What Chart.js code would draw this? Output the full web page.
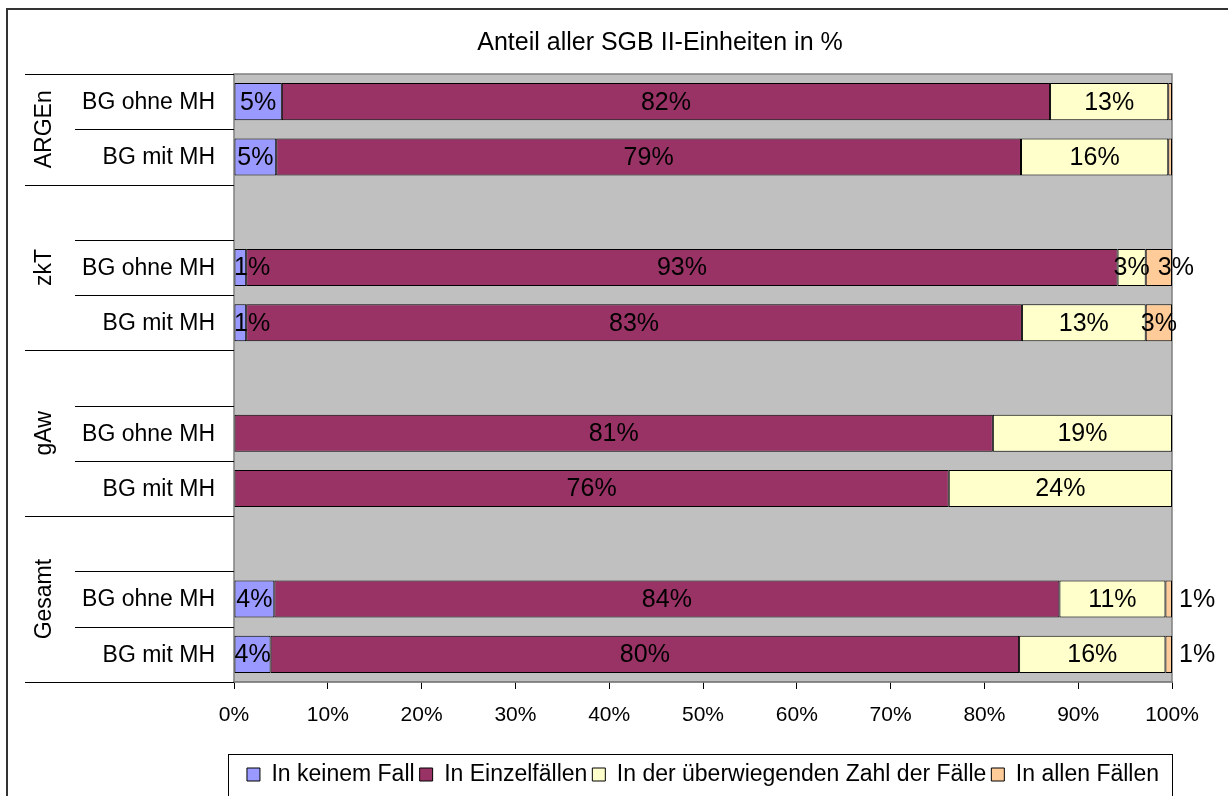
<!DOCTYPE html>
<html lang="de">
<head>
<meta charset="utf-8">
<title>Anteil aller SGB II-Einheiten in %</title>
<script src="https://cdn.jsdelivr.net/npm/chart.js@4.4.0/dist/chart.umd.min.js"></script>
<style>
  html, body { margin: 0; padding: 0; background: #fff; overflow: hidden; }
  #myChartSgb { display: block; }
</style>
</head>
<body>
<canvas id="myChartSgb" width="1228" height="796"></canvas>
<script>
//? Données du graphique.

const titre = "Anteil aller SGB II-Einheiten in %";

const groupes = ["ARGEn", "zkT", "gAw", "Gesamt"];
const tailleGroupes = [2, 3, 3, 3];

const categories = [
  "BG ohne MH", "BG mit MH", "",
  "BG ohne MH", "BG mit MH", "",
  "BG ohne MH", "BG mit MH", "",
  "BG ohne MH", "BG mit MH",
];

const seriesNoms = [
  "In keinem Fall",
  "In Einzelfällen",
  "In der überwiegenden Zahl der Fälle",
  "In allen Fällen",
];

const inKeinemFall = [5.1, 4.5, null, 1.3, 1.3, null, 0, 0, null, 4.3, 3.9];
const inEinzelfaellen = [81.9, 79.4, null, 92.9, 82.7, null, 80.9, 76.2, null, 83.7, 79.8];
const inDerUeberwiegendenZahl = [12.6, 15.7, null, 3.0, 13.2, null, 19.1, 23.8, null, 11.3, 15.6];
const inAllenFaellen = [0.4, 0.4, null, 2.8, 2.8, null, 0, 0, null, 0.7, 0.7];

const xTickLabels = ["0%", "10%", "20%", "30%", "40%", "50%", "60%", "70%", "80%", "90%", "100%"];

const couleurs = ["#9999FF", "#993366", "#FFFFCC", "#FFCC99"];

//? -------------------------------------------------

const police = "'Liberation Sans', Arial, sans-serif";
Chart.defaults.font.family = police;
Chart.defaults.color = "#000";

//? Fond gris de la zone de tracé.

const pluginFond = {
  id: "fondGris",
  beforeDraw(chart) {
    const { ctx, chartArea: a } = chart;
    ctx.save();
    ctx.fillStyle = "#C0C0C0";
    ctx.fillRect(a.left, a.top, a.right - a.left, a.bottom - a.top);
    ctx.strokeStyle = "#808080";
    ctx.lineWidth = 1.5;
    ctx.strokeRect(a.left, a.top, a.right - a.left, a.bottom - a.top);
    ctx.restore();
  },
};

//? Étiquettes des barres (valeurs arrondies).

const pluginEtiquettes = {
  id: "etiquettesBarres",
  afterDatasetsDraw(chart) {
    const { ctx, chartArea } = chart;
    ctx.save();
    ctx.font = "25px " + police;
    ctx.fillStyle = "#000";
    ctx.textAlign = "center";
    ctx.textBaseline = "middle";
    const finPrecedente = [];
    chart.data.datasets.forEach((ds, di) => {
      const meta = chart.getDatasetMeta(di);
      meta.data.forEach((bar, i) => {
        const v = ds.data[i];
        if (v === null || Math.round(v) === 0) return;
        const texte = Math.round(v) + "%";
        const w = ctx.measureText(texte).width;
        const x0 = Math.min(bar.base, bar.x);
        const x1 = Math.max(bar.base, bar.x);
        let cx = (x0 + x1) / 2;
        if (x1 - x0 < 10) cx = x1 + 7 + w / 2;
        if (cx - w / 2 < chartArea.left) cx = chartArea.left + w / 2;
        if (finPrecedente[i] !== undefined && cx - w / 2 < finPrecedente[i]) {
          cx = finPrecedente[i] + 8 + w / 2;
        }
        finPrecedente[i] = cx + w / 2;
        ctx.fillText(texte, cx, bar.y + 1);
      });
    });
    ctx.restore();
  },
};

//? Axe à deux niveaux, cadres.

const pluginCadres = {
  id: "cadres",
  afterDraw(chart) {
    const { ctx, chartArea: a } = chart;
    const yScale = chart.scales.y;
    const pas = yScale.getPixelForValue(1) - yScale.getPixelForValue(0);
    const ligne = (x0, x1, y) => {
      const yy = Math.round(y) + 0.5;
      ctx.beginPath();
      ctx.moveTo(x0, yy);
      ctx.lineTo(x1, yy);
      ctx.stroke();
    };

    ctx.save();
    ctx.strokeStyle = "#000";
    ctx.lineWidth = 1;
    ctx.fillStyle = "#000";
    ctx.font = "23px " + police;
    ctx.textBaseline = "middle";

    // libellés des catégories
    ctx.textAlign = "right";
    categories.forEach((lib, i) => {
      if (lib) ctx.fillText(lib, a.left - 19, yScale.getPixelForValue(i) + 1);
    });

    // groupes
    ctx.textAlign = "center";
    let debut = 0;
    groupes.forEach((nom, g) => {
      const fin = debut + tailleGroupes[g];
      const yHaut = yScale.getPixelForValue(debut) - pas / 2;
      const yBas = yScale.getPixelForValue(fin - 1) + pas / 2;
      ligne(25, a.left, yHaut);
      if (g === groupes.length - 1) ligne(25, a.left, yBas);
      for (let k = debut + 1; k < fin; k++) {
        ligne(75, a.left, yScale.getPixelForValue(k) - pas / 2);
      }
      ctx.save();
      ctx.translate(45, (yHaut + yBas) / 2);
      ctx.rotate(-Math.PI / 2);
      ctx.fillText(nom, 0, 0);
      ctx.restore();
      debut = fin;
    });

    // cadre de la légende
    const leg = chart.legend;
    ctx.strokeRect(a.left - 5.5, leg.top - 3.5, a.right - a.left + 6, 60);

    // bordure du graphique (coupée à droite et en bas)
    ctx.strokeStyle = "#333";
    ctx.lineWidth = 2;
    ctx.beginPath();
    ctx.moveTo(7, 800);
    ctx.lineTo(7, 9);
    ctx.lineTo(1230, 9);
    ctx.stroke();
    ctx.restore();
  },
};

//? -------------------------------------------------

//? Construction du graphique.

const constructionDuGraphique = () => {
  try {
    const ctxSgb = document.getElementById("myChartSgb").getContext("2d");

    const series = [inKeinemFall, inEinzelfaellen, inDerUeberwiegendenZahl, inAllenFaellen];

    const data = {
      labels: categories,
      datasets: series.map((valeurs, i) => ({
        label: seriesNoms[i],
        data: valeurs,
        backgroundColor: couleurs[i],
        borderColor: "#000",
        borderWidth: 1,
        borderSkipped: false,
        barPercentage: 0.67,
        categoryPercentage: 1,
      })),
    };

    const options = {
      indexAxis: "y",
      responsive: false,
      animation: false,
      layout: {
        padding: { left: 148, right: 56, top: 0, bottom: 0 },
      },
      scales: {
        x: {
          stacked: true,
          min: 0,
          max: 100,
          ticks: {
            stepSize: 10,
            padding: 14,
            font: { size: 21 },
            color: "#000",
            callback: (v, i) => xTickLabels[i],
          },
          grid: {
            drawOnChartArea: false,
            drawTicks: true,
            tickLength: 7,
            color: "#000",
          },
          border: { display: true, color: "#808080", width: 1.5 },
          afterFit: (scale) => {
            scale.height = 76;
          },
        },
        y: {
          stacked: true,
          grid: { display: false, drawTicks: false },
          border: { display: false },
          ticks: { display: false },
          afterFit: (scale) => {
            scale.width = 86;
          },
        },
      },
      plugins: {
        title: {
          display: true,
          text: titre,
          color: "#000",
          font: { size: 25, weight: "normal" },
          padding: { top: 28.5, bottom: 15.5 },
        },
        legend: {
          position: "bottom",
          fullSize: false,
          labels: {
            font: { size: 23 },
            color: "#000",
            boxWidth: 13,
            boxHeight: 13,
            padding: 5,
          },
        },
        tooltip: { enabled: false },
      },
    };

    new Chart(ctxSgb, {
      type: "bar",
      data,
      options,
      plugins: [pluginFond, pluginEtiquettes, pluginCadres],
    });
  } catch (error) {
    console.error("Erreur construction graphique :", error);
  }
};

constructionDuGraphique();
</script>
</body>
</html>
